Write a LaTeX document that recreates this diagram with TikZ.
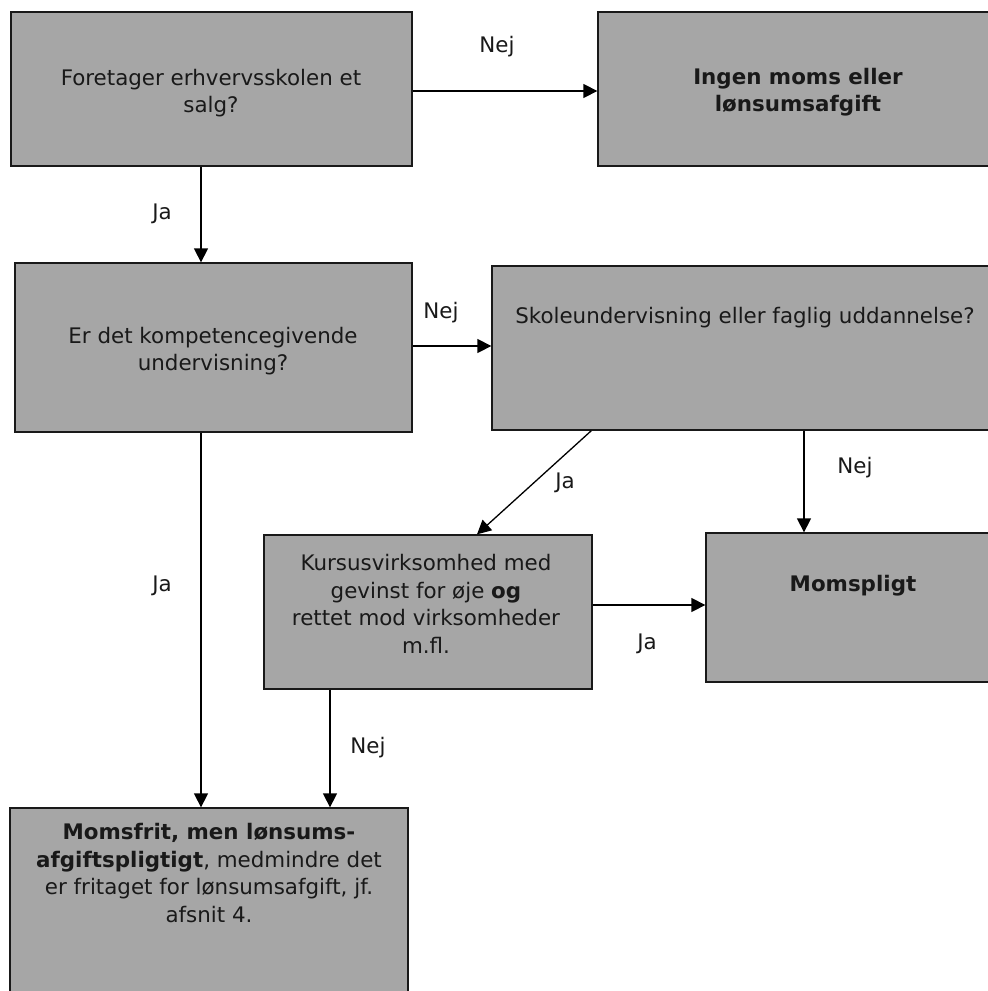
\documentclass[tikz,border=0pt]{standalone}
\usepackage{fontspec}
\setmainfont{DejaVu Sans}
\usetikzlibrary{arrows.meta}
\definecolor{boxfill}{RGB}{166,166,166}
\definecolor{boxline}{RGB}{25,25,25}
\tikzset{
  box/.style={draw=boxline, line width=1.3pt, fill=boxfill, rectangle, inner sep=0pt},
  txt/.style={font=\fontsize{21.4}{27.5}\selectfont, align=center, inner sep=0pt, text=black!90},
  lbl/.style={font=\fontsize{21.4}{27.5}\selectfont, inner sep=0pt, text=black!90},
  arr/.style={draw=black, line width=1.3pt, -{Triangle[length=14pt,width=14pt]}},
}
\begin{document}
\begin{tikzpicture}[x=1pt,y=-1pt]
\useasboundingbox (0,0) rectangle (988,991);
\clip (0,0) rectangle (988,991);
\fill[white] (0,0) rectangle (988,991);
% boxes
\node[box, minimum width=401pt, minimum height=154pt] (b1) at (211.5,89) {};
\node[box, minimum width=402pt, minimum height=154pt] (b2) at (799,89) {};
\node[box, minimum width=397pt, minimum height=169pt] (b3) at (213.5,347.5) {};
\node[box, minimum width=508pt, minimum height=164pt] (b4) at (746,348) {};
\node[box, minimum width=328pt, minimum height=154pt] (b5) at (428,612) {};
\node[box, minimum width=294pt, minimum height=149pt] (b6) at (853,607.5) {};
\node[box, minimum width=398pt, minimum height=192pt] (b7) at (209,904) {};
% texts
\node[txt] (t1) at (211,93) {Foretager erhvervsskolen et\\salg?};
\node[txt] (t2) at (798,92) {\bfseries Ingen moms eller\\\bfseries lønsumsafgift};
\node[txt] (t3) at (213,351) {Er det kompetencegivende\\undervisning?};
\node[txt] (t4) at (745,318) {Skoleundervisning eller faglig uddannelse?};
\node[txt] (t5) at (426,604) {Kursusvirksomhed med\\gevinst for øje \textbf{og}\\rettet mod virksomheder\\m.fl.};
\node[txt] (t6) at (853,586) {\bfseries Momspligt};
\node[txt] (t7) at (209,873) {\textbf{Momsfrit, men lønsums-}\\\textbf{afgiftspligtigt}, medmindre det\\er fritaget for lønsumsafgift, jf.\\afsnit 4.};
% helper coordinates
\coordinate (cx1) at (201,0);
\coordinate (cx2) at (804,0);
\coordinate (cx3) at (330,0);
\coordinate (cy1) at (0,91);
\coordinate (cy2) at (0,346);
\coordinate (cy3) at (0,605);
% connectors
\draw[arr] (b1.east |- cy1) -- (b2.west |- cy1);
\draw[arr] (b1.south -| cx1) -- (b3.north -| cx1);
\draw[arr] (b3.east |- cy2) -- (b4.west |- cy2);
\draw[arr] ([xshift=100pt]b4.south west) -- ([xshift=49pt]b5.north);
\draw[arr] (b4.south -| cx2) -- (b6.north -| cx2);
\draw[arr] (b5.east |- cy3) -- (b6.west |- cy3);
\draw[arr] (b3.south -| cx1) -- (b7.north -| cx1);
\draw[arr] (b5.south -| cx3) -- (b7.north -| cx3);
% labels
\node[lbl] (l1) at (497,47) {Nej};
\node[lbl] (l2) at (162,214) {Ja};
\node[lbl] (l3) at (441,313) {Nej};
\node[lbl] (l4) at (565,483) {Ja};
\node[lbl] (l5) at (855,468) {Nej};
\node[lbl] (l6) at (647,644) {Ja};
\node[lbl] (l7) at (162,586) {Ja};
\node[lbl] (l8) at (368,748) {Nej};
\end{tikzpicture}
\end{document}
